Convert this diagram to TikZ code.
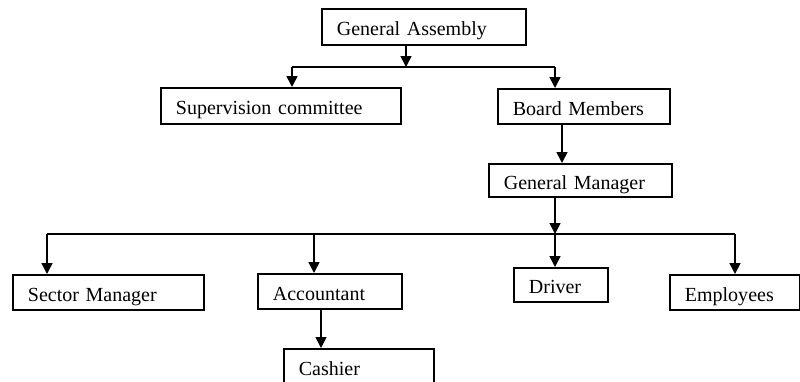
\documentclass[tikz,border=0pt]{standalone}
\usepackage{fontspec}
\setmainfont{Liberation Serif}
\usetikzlibrary{arrows.meta}
\begin{document}
\begin{tikzpicture}[x=1pt,y=-1pt,
  orgbox/.style={draw, line width=1.8pt, inner xsep=15pt, inner ysep=0pt,
    text height=18pt, text depth=0pt, align=left, anchor=north west,
    font=\fontsize{20}{24}\selectfont},
  busline/.style={line width=1.6pt},
  conn/.style={line width=1.6pt, -{Triangle[width=11pt,length=11pt]}}]
\useasboundingbox (0,0) rectangle (800,381);
\clip (0,0) rectangle (800,381);
% boxes
\node[orgbox, text width=174pt, minimum height=36pt] (ga)  at (321,8)   {General Assembly};
\node[orgbox, text width=210pt, minimum height=36pt] (sc)  at (160,87)  {Supervision committee};
\node[orgbox, text width=142pt, minimum height=35pt] (bm)  at (497,88)  {Board Members};
\node[orgbox, text width=153pt, minimum height=33pt] (gm)  at (488,163) {General Manager};
\node[orgbox, text width=161pt, minimum height=35pt] (sm)  at (12,274)  {Sector Manager};
\node[orgbox, text width=114pt, minimum height=35pt] (acc) at (257,273) {Accountant};
\node[orgbox, text width=64pt,  minimum height=34pt] (drv) at (513,267) {Driver};
\node[orgbox, text width=100pt, minimum height=35pt] (emp) at (669,274) {Employees};
\node[orgbox, text width=120pt, minimum height=36pt] (cas) at (283,348) {Cashier};
% junction coordinates
\coordinate (j1) at (406,67);
\coordinate (b1L) at (292,67);
\coordinate (b1R) at (555,67);
\coordinate (x1) at (562,0);
\coordinate (j2) at (555,234);
\coordinate (b2L) at (47,234);
\coordinate (b2a) at (314,234);
\coordinate (b2R) at (735,234);
\coordinate (x2) at (321,0);
% connectors
\draw[conn] (ga.south -| j1) -- (j1);
\draw[busline] (b1L) -- (b1R);
\draw[conn] (b1L) -- (b1L |- sc.north);
\draw[conn] (b1R) -- (b1R |- bm.north);
\draw[conn] (bm.south -| x1) -- (gm.north -| x1);
\draw[conn] (gm.south -| j2) -- (j2);
\draw[busline] (b2L) -- (b2R);
\draw[conn] (b2L) -- (b2L |- sm.north);
\draw[conn] (b2a) -- (b2a |- acc.north);
\draw[conn] (j2) -- (j2 |- drv.north);
\draw[conn] (b2R) -- (b2R |- emp.north);
\draw[conn] (acc.south -| x2) -- (cas.north -| x2);
\end{tikzpicture}
\end{document}
